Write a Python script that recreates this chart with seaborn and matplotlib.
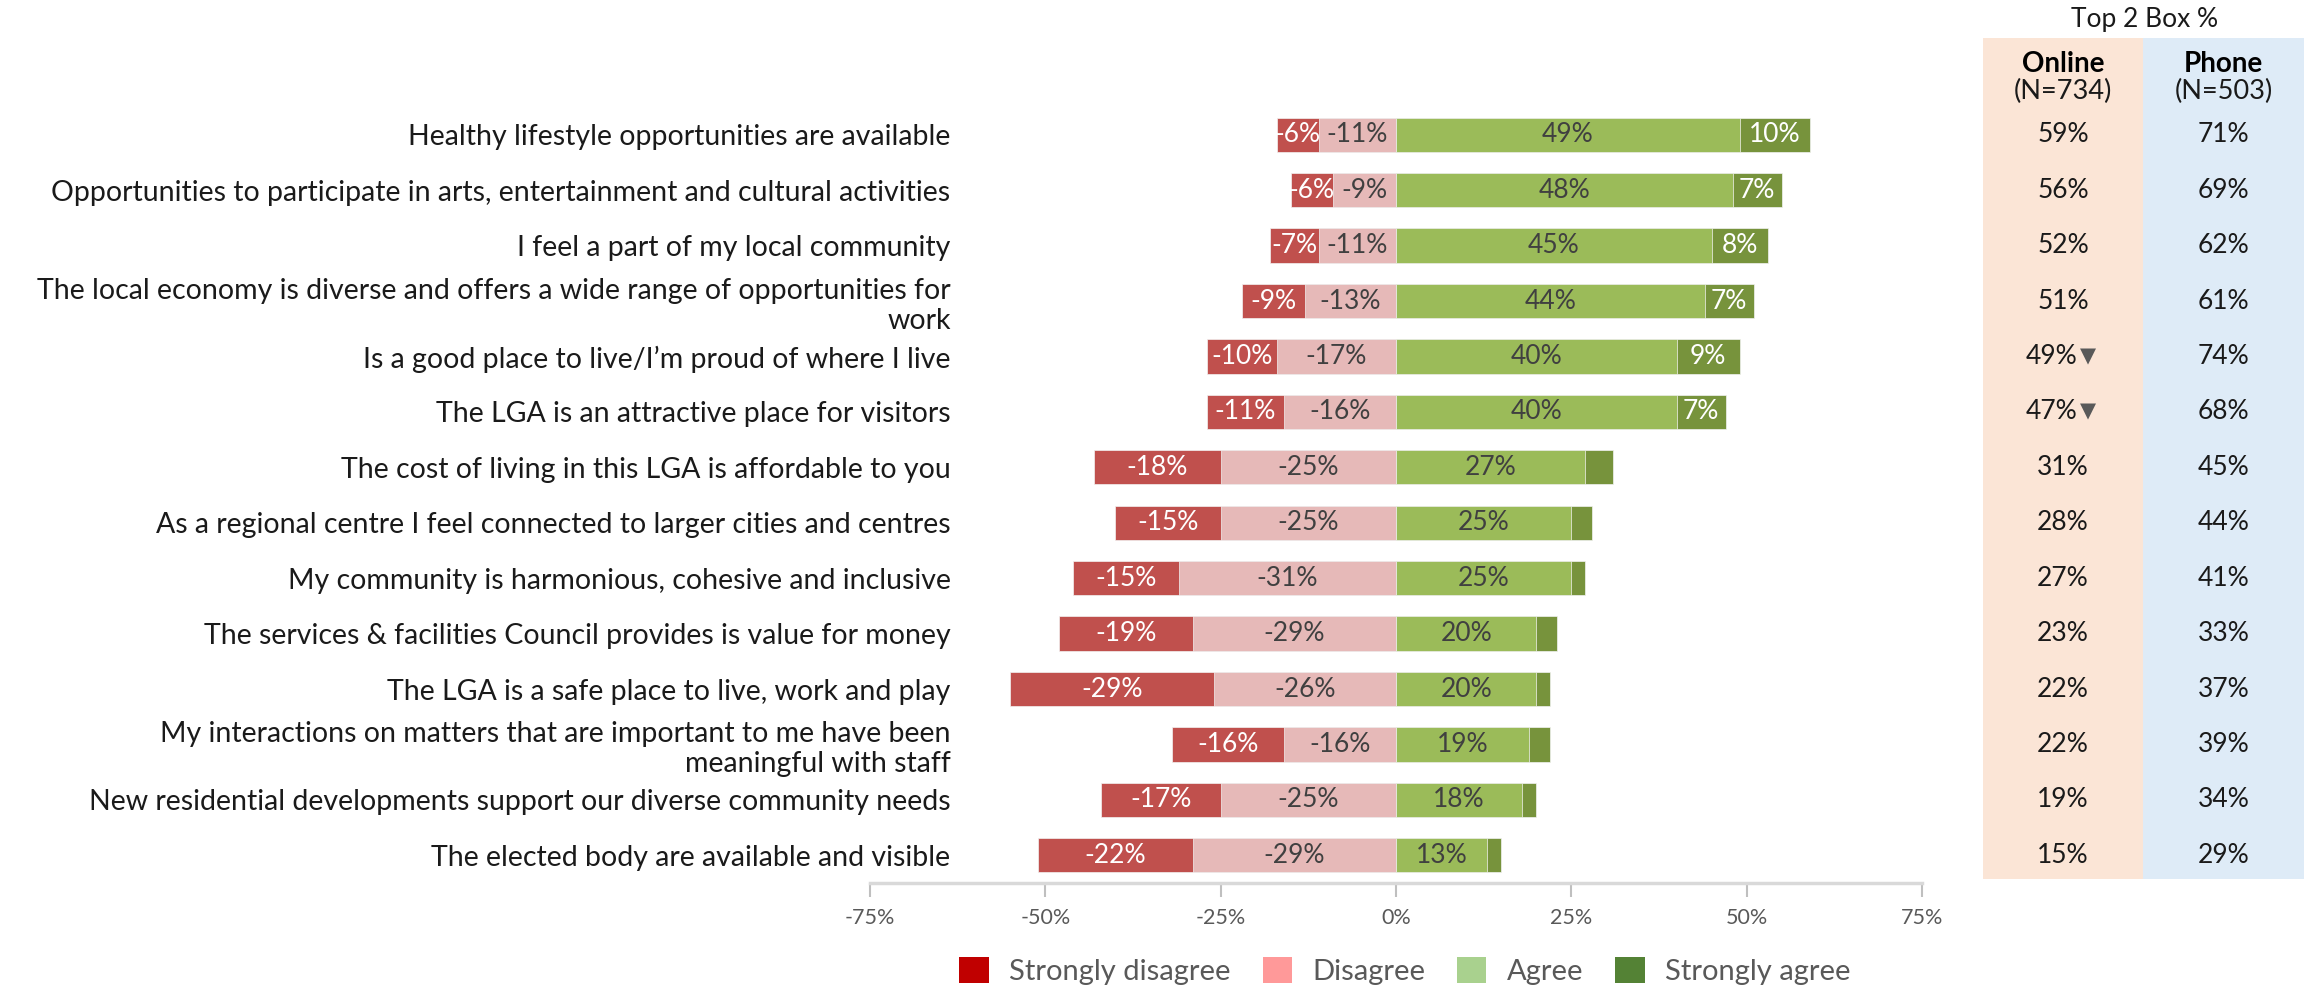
import matplotlib
matplotlib.use("Agg")
import matplotlib.pyplot as plt
import matplotlib.transforms as mtransforms
from matplotlib.patches import Rectangle, Patch
import seaborn as sns

# ---- data -------------------------------------------------------------
categories = [
    "Healthy lifestyle opportunities are available",
    "Opportunities to participate in arts, entertainment and cultural activities",
    "I feel a part of my local community",
    "The local economy is diverse and offers a wide range of opportunities for\nwork",
    "Is a good place to live/I\u2019m proud of where I live",
    "The LGA is an attractive place for visitors",
    "The cost of living in this LGA is affordable to you",
    "As a regional centre I feel connected to larger cities and centres",
    "My community is harmonious, cohesive and inclusive",
    "The services & facilities Council provides is value for money",
    "The LGA is a safe place to live, work and play",
    "My interactions on matters that are important to me have been\nmeaningful with staff",
    "New residential developments support our diverse community needs",
    "The elected body are available and visible",
]
strongly_disagree = [6, 6, 7, 9, 10, 11, 18, 15, 15, 19, 29, 16, 17, 22]
disagree = [11, 9, 11, 13, 17, 16, 25, 25, 31, 29, 26, 16, 25, 29]
agree = [49, 48, 45, 44, 40, 40, 27, 25, 25, 20, 20, 19, 18, 13]
strongly_agree = [10, 7, 8, 7, 9, 7, 4, 3, 2, 3, 2, 3, 2, 2]

online_top2 = [59, 56, 52, 51, 49, 47, 31, 28, 27, 23, 22, 22, 19, 15]
phone_top2 = [71, 69, 62, 61, 74, 68, 45, 44, 41, 33, 37, 39, 34, 29]
online_sig_lower = [False, False, False, False, True, True, False, False,
                    False, False, False, False, False, False]

x_ticks = [-75, -50, -25, 0, 25, 50, 75]
legend_labels = ["Strongly disagree", "Disagree", "Agree", "Strongly agree"]
table_title = "Top 2 Box %"
online_header = ("Online", "(N=734)")
phone_header = ("Phone", "(N=503)")

# ---- styling ----------------------------------------------------------
sns.set_theme(style="white")
plt.rcParams["font.family"] = ["Lato", "DejaVu Sans"]

c_sd, c_d, c_a, c_sa = "#C0504D", "#E6B9B8", "#9BBB59", "#77933C"
leg_colors = ["#C00000", "#FF9999", "#A9D18E", "#548235"]
txt_dark = "#1A1A1A"
txt_grey = "#595959"

W, H = 2308, 988
fig = plt.figure(figsize=(W / 100, H / 100), dpi=100)
ax = fig.add_axes([870 / W, 1 - 883 / H, 1052 / W, 776 / H])

neg_total = [-(a + b) for a, b in zip(strongly_disagree, disagree)]
neg_d = [-b for b in disagree]
pos_total = [a + b for a, b in zip(agree, strongly_agree)]

bar_kw = dict(y=categories, orient="h", saturation=1, width=0.62,
              edgecolor="#F2F2F2", linewidth=0.5, ax=ax)
sns.barplot(x=neg_total, color=c_sd, **bar_kw)
sns.barplot(x=neg_d, color=c_d, **bar_kw)
sns.barplot(x=pos_total, color=c_sa, **bar_kw)
sns.barplot(x=agree, color=c_a, **bar_kw)

# segment value labels
fs_bar = 19
for i in range(len(categories)):
    sd, d, a, sa = strongly_disagree[i], disagree[i], agree[i], strongly_agree[i]
    ax.text(-(d + sd / 2), i, f"-{sd}%", ha="center", va="center",
            color="white", fontsize=fs_bar)
    ax.text(-d / 2, i, f"-{d}%", ha="center", va="center",
            color="#404040", fontsize=fs_bar)
    ax.text(a / 2, i, f"{a}%", ha="center", va="center",
            color="#404040", fontsize=fs_bar)
    if sa >= 5:
        ax.text(a + sa / 2, i, f"{sa}%", ha="center", va="center",
                color="white", fontsize=fs_bar)

ax.set_xlim(-75, 75)
ax.set_ylim(len(categories) - 0.5, -0.5)
ax.set_xticks(x_ticks)
ax.set_xticklabels([f"{t}%" for t in x_ticks], color=txt_grey, fontsize=15.5)
ax.tick_params(axis="x", bottom=True, length=10, width=1.5, color="#BFBFBF",
               pad=8)
ax.tick_params(axis="y", left=False, length=0, pad=-58)
for lbl in ax.get_yticklabels():
    lbl.set_fontsize(20.5)
    lbl.set_color(txt_dark)
ax.set_xlabel("")
ax.set_ylabel("")
for side in ["top", "left", "right"]:
    ax.spines[side].set_visible(False)
ax.spines["bottom"].set_color("#D9D9D9")
ax.spines["bottom"].set_linewidth(2.5)
ax.grid(False)
ax.set_facecolor("none")

# ---- Top 2 Box table ---------------------------------------------------
on_x0, on_x1, ph_x1 = 1983, 2143, 2304
fig.add_artist(Rectangle((on_x0 / W, 1 - 879 / H), (on_x1 - on_x0) / W,
                         (879 - 38) / H, transform=fig.transFigure,
                         facecolor="#FBE5D6", edgecolor="none", zorder=0))
fig.add_artist(Rectangle((on_x1 / W, 1 - 879 / H), (ph_x1 - on_x1) / W,
                         (879 - 38) / H, transform=fig.transFigure,
                         facecolor="#DEEBF7", edgecolor="none", zorder=0))

on_cx = (on_x0 + on_x1) / 2 / W
ph_cx = (on_x1 + ph_x1) / 2 / W
fig.text(2145 / W, 1 - 20 / H, table_title, ha="center", va="center",
         fontsize=19, color=txt_dark)
for cx, (name, n) in [(on_cx, online_header), (ph_cx, phone_header)]:
    fig.text(cx, 1 - 64 / H, name, ha="center", va="center", fontsize=20,
             fontweight="bold", color="black")
    fig.text(cx, 1 - 91 / H, n, ha="center", va="center", fontsize=19.5,
             color=txt_dark)

fs_tab = 19
trans = mtransforms.blended_transform_factory(fig.transFigure, ax.transData)
for i in range(len(categories)):
    if online_sig_lower[i]:
        ax.text(2077 / W, i, f"{online_top2[i]}%", transform=trans,
                ha="right", va="center", fontsize=fs_tab, color=txt_dark,
                clip_on=False)
        ax.text(2080 / W, i, "\u25BC", transform=trans, ha="left",
                va="center", fontsize=15, color=txt_grey, clip_on=False,
                family=["DejaVu Sans"])
    else:
        ax.text(on_cx, i, f"{online_top2[i]}%", transform=trans,
                ha="center", va="center", fontsize=fs_tab, color=txt_dark,
                clip_on=False)
    ax.text(ph_cx, i, f"{phone_top2[i]}%", transform=trans, ha="center",
            va="center", fontsize=fs_tab, color=txt_dark, clip_on=False)

# ---- legend -----------------------------------------------------------
handles = [Patch(facecolor=c, edgecolor="none") for c in leg_colors]
fig.legend(handles, legend_labels, loc="center", ncol=4,
           bbox_to_anchor=(1405 / W, 1 - 971 / H), frameon=False,
           fontsize=21, labelcolor=txt_grey, handlelength=1.0,
           handleheight=1.0, handletextpad=0.7, columnspacing=1.1)

fig.savefig("out.png", dpi=100)
